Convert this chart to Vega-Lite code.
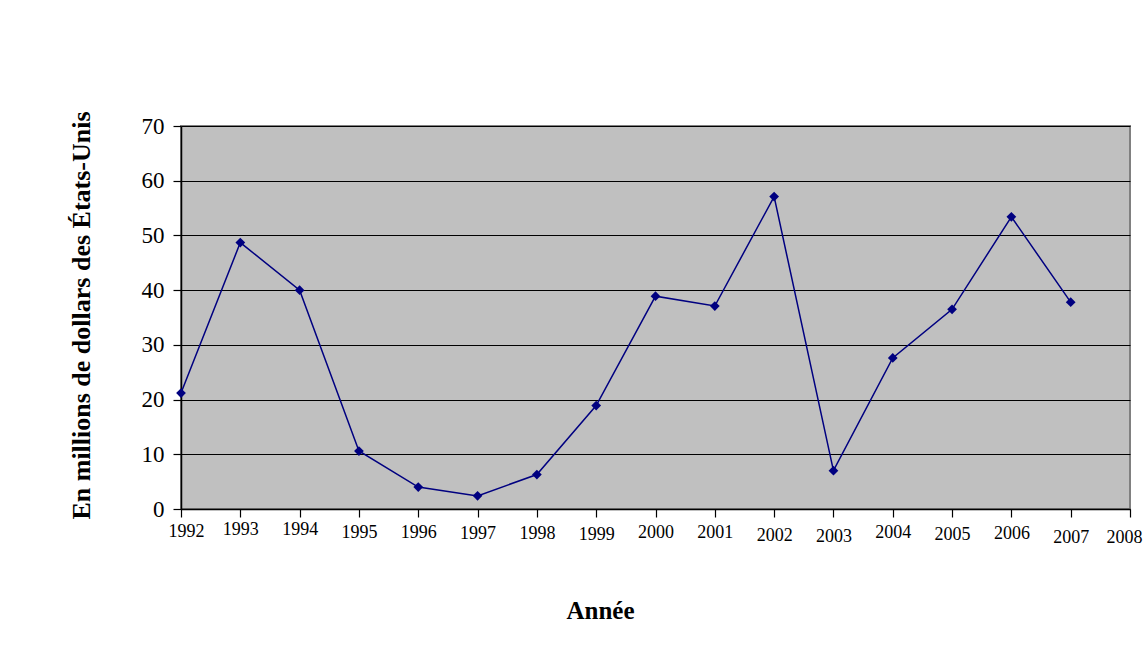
{
  "$schema": "https://vega.github.io/schema/vega-lite/v6.json",
  "autosize": "none",
  "width": 949,
  "height": 383,
  "padding": {"left": 181, "top": 126, "right": 14, "bottom": 155},
  "background": "white",
  "config": {
    "view": {"fill": "#C0C0C0", "stroke": "#808080", "strokeWidth": 2},
    "font": "Liberation Serif"
  },
  "data": {
    "values": [
      {"annee": 1992, "valeur": 21.2},
      {"annee": 1993, "valeur": 48.7},
      {"annee": 1994, "valeur": 40.0},
      {"annee": 1995, "valeur": 10.6},
      {"annee": 1996, "valeur": 4.0},
      {"annee": 1997, "valeur": 2.4},
      {"annee": 1998, "valeur": 6.3},
      {"annee": 1999, "valeur": 18.9},
      {"annee": 2000, "valeur": 38.9},
      {"annee": 2001, "valeur": 37.1},
      {"annee": 2002, "valeur": 57.1},
      {"annee": 2003, "valeur": 7.0},
      {"annee": 2004, "valeur": 27.6},
      {"annee": 2005, "valeur": 36.5},
      {"annee": 2006, "valeur": 53.4},
      {"annee": 2007, "valeur": 37.8}
    ]
  },
  "encoding": {
    "x": {
      "field": "annee",
      "type": "quantitative",
      "scale": {"domain": [1992, 2008], "nice": false, "zero": false},
      "axis": {
        "title": "Année",
        "values": [1992,1993,1994,1995,1996,1997,1998,1999,2000,2001,2002,2003,2004,2005,2006,2007,2008],
        "format": "d",
        "grid": false,
        "domainColor": "black",
        "domainWidth": 1.5,
        "tickColor": "black",
        "tickSize": 8,
        "tickWidth": 1.2,
        "labelFont": "Liberation Serif",
        "labelFontSize": 18,
        "labelColor": "black",
        "labelFlush": false,
        "labelOverlap": false,
        "labelPadding": {"expr": "[5,3,3,6,6,7,7,8,6,6,9,10,6,8,7,11,11][datum.value - 1992]"},
        "labelOffset": {"expr": "[5,0,0,0,0,0,0,0,0,0,0,0,0,0,0,0,-6][datum.value - 1992]"},
        "titleFont": "Liberation Serif",
        "titleFontSize": 25,
        "titleFontWeight": "bold",
        "titleColor": "black",
        "titleX": 419,
        "titleY": 101,
        "titleBaseline": "middle",
        "titleAlign": "center",
        "titleAnchor": null
      }
    },
    "y": {
      "field": "valeur",
      "type": "quantitative",
      "scale": {"domain": [0, 70], "nice": false},
      "axis": {
        "title": "En millions de dollars des États-Unis",
        "values": [0,10,20,30,40,50,60,70],
        "grid": true,
        "gridColor": "black",
        "gridWidth": 1.2,
        "domainColor": "black",
        "domainWidth": 1.5,
        "tickColor": "black",
        "tickSize": 8,
        "tickWidth": 1.2,
        "labelFont": "Liberation Serif",
        "labelFontSize": 23,
        "labelColor": "black",
        "labelPadding": 9,
        "labelFlush": false,
        "titleFont": "Liberation Serif",
        "titleFontSize": 26,
        "titleFontWeight": "bold",
        "titleColor": "black",
        "titleAngle": -90,
        "titleX": -100,
        "titleY": 189,
        "titleBaseline": "middle",
        "titleAlign": "center",
        "titleAnchor": null
      }
    }
  },
  "layer": [
    {"mark": {"type": "line", "color": "#000080", "strokeWidth": 1.5}},
    {"mark": {"type": "point", "shape": "diamond", "filled": true, "color": "#000080", "size": 95, "opacity": 1}}
  ]
}
